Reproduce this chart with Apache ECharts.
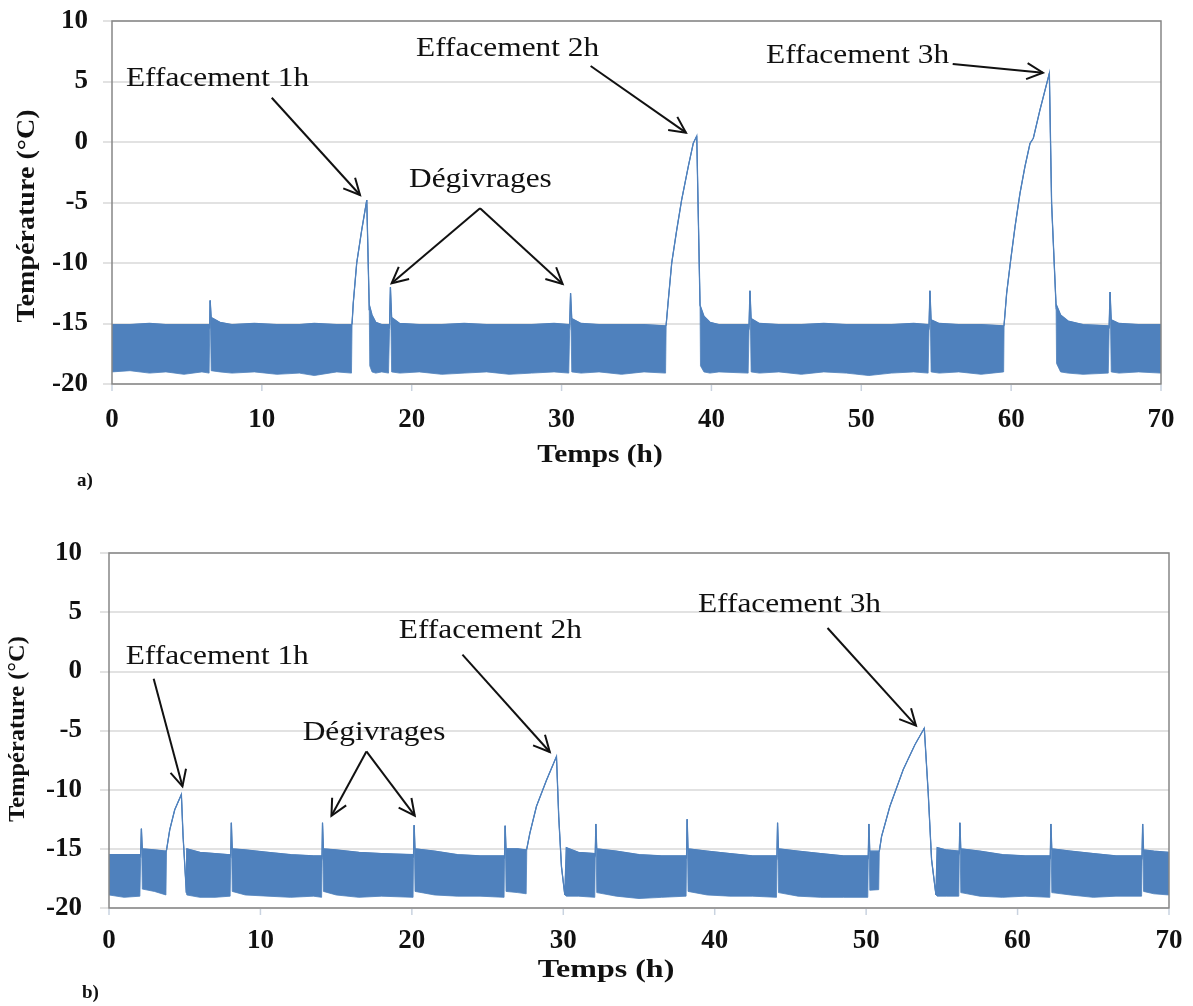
<!DOCTYPE html>
<html>
<head>
<meta charset="utf-8">
<script src="https://cdn.jsdelivr.net/npm/echarts@6/dist/echarts.min.js"></script>
<style>
  html, body { margin: 0; padding: 0; background: #ffffff; }
  #chart { width: 1193px; height: 1006px; }
</style>
</head>
<body>
<div id="chart"></div>
<script>
// Panel a) — cold-room temperature, envelope of the fast compressor cycling (°C vs hours)
const timeA = [
  0, 1.2, 2.5, 3.6, 4.8, 6.0, 6.48, 6.52, 6.55, 6.62, 7.2, 8.0, 9.5, 11.0, 12.5, 13.5, 15.0, 15.98,
  16.02, 16.1, 16.33, 16.66, 17.0, 17.17, 17.2, 17.35, 17.6, 18.0,
  18.45, 18.52, 18.58, 18.66, 19.2, 20.5, 22.0, 23.5, 25.0, 26.5, 28.0, 29.5,
  30.48, 30.54, 30.6, 30.68, 31.3, 32.5, 34.0, 35.5, 36.94,
  36.98, 37.12, 37.35, 37.68, 38.01, 38.46, 38.79, 39.02, 39.24, 39.27, 39.5, 39.9, 40.5,
  42.45, 42.51, 42.57, 42.65, 43.2, 44.5, 46.0, 47.5, 49.0, 50.5, 52.0, 53.5,
  54.46, 54.52, 54.58, 54.66, 55.2, 56.5, 58.0, 59.5,
  59.53, 59.7, 59.97, 60.26, 60.59, 60.92, 61.26, 61.48, 61.92, 62.55, 62.7, 63.0, 63.03, 63.3, 63.8, 64.8,
  66.48, 66.54, 66.6, 66.68, 67.2, 68.5, 70.0
];
const upperA = [
  -15.1, -15.1, -15.0, -15.1, -15.1, -15.1, -15.1, -15.4, -13.1, -14.5, -14.9, -15.1, -15.0, -15.1, -15.1, -15.0, -15.1, -15.1,
  -15.0, -13.3, -10.0, -7.3, -4.8, -13.9, -13.6, -14.3, -14.9, -15.1,
  -15.1, -15.3, -12.0, -14.5, -15.0, -15.1, -15.1, -15.0, -15.1, -15.1, -15.1, -15.0,
  -15.1, -15.3, -12.5, -14.6, -15.0, -15.1, -15.1, -15.1, -15.2,
  -15.1, -13.1, -10.0, -7.3, -4.8, -2.0, -0.1, 0.5, -13.5, -13.6, -14.4, -14.9, -15.1,
  -15.1, -15.3, -12.3, -14.6, -15.0, -15.1, -15.1, -15.0, -15.1, -15.1, -15.1, -15.0,
  -15.1, -15.3, -12.3, -14.7, -15.0, -15.1, -15.1, -15.2,
  -15.1, -12.5, -9.75, -7.0, -4.24, -2.04, -0.11, 0.31, 2.64, 5.68, -5.07, -13.6, -13.5, -14.3, -14.8, -15.1,
  -15.2, -15.3, -12.4, -14.7, -15.0, -15.1, -15.1
];
const lowerA = [
  -19.0, -18.9, -19.1, -19.0, -19.2, -19.0, -19.1, -15.6, -13.1, -18.9, -19.0, -19.1, -19.0, -19.2, -19.1, -19.3, -19.0, -19.1,
  -15.0, -13.3, -10.0, -7.3, -4.8, -13.9, -18.5, -19.0, -19.1, -19.0,
  -19.1, -15.5, -12.0, -19.0, -19.1, -19.0, -19.2, -19.1, -19.0, -19.2, -19.1, -19.0,
  -19.1, -15.5, -12.5, -19.0, -19.1, -19.0, -19.2, -19.0, -19.1,
  -15.1, -13.1, -10.0, -7.3, -4.8, -2.0, -0.1, 0.5, -13.5, -18.5, -19.0, -19.1, -19.0,
  -19.1, -15.5, -12.3, -19.0, -19.1, -19.0, -19.2, -19.0, -19.1, -19.3, -19.1, -19.0,
  -19.1, -15.5, -12.3, -19.0, -19.1, -19.0, -19.2, -19.0,
  -15.1, -12.5, -9.75, -7.0, -4.24, -2.04, -0.11, 0.31, 2.64, 5.68, -5.07, -13.6, -18.3, -19.0, -19.1, -19.2,
  -19.1, -15.5, -12.4, -19.0, -19.1, -19.0, -19.1
];

// Panel b)
const timeB = [
  0, 1.0, 2.04, 2.09, 2.14, 2.2, 3.0, 3.76,
  3.8, 4.01, 4.34, 4.78, 4.89, 5.11, 5.14, 6.0, 7.0, 8.0,
  8.04, 8.08, 8.14, 9.0, 10.5, 12.0, 13.5, 14.04,
  14.07, 14.1, 14.16, 15.0, 16.5, 18.0, 20.08,
  20.11, 20.15, 20.21, 21.5, 23.0, 24.5, 26.09,
  26.12, 26.16, 26.22, 27.0, 27.55,
  27.59, 27.79, 28.23, 28.89, 29.55, 29.7, 29.88, 30.1, 30.2, 31.0, 32.08,
  32.11, 32.15, 32.21, 33.5, 35.0, 36.5, 38.11,
  38.14, 38.18, 38.24, 39.5, 41.0, 42.5, 44.08,
  44.11, 44.15, 44.21, 45.5, 47.0, 48.5, 50.11,
  50.14, 50.18, 50.24, 50.83,
  50.87, 51.02, 51.57, 52.45, 53.22, 53.84, 54.1, 54.32, 54.61, 54.69, 55.3, 56.12,
  56.15, 56.19, 56.25, 57.5, 59.0, 60.5, 62.13,
  62.16, 62.2, 62.26, 63.5, 65.0, 66.5, 68.19,
  68.22, 68.26, 68.32, 69.0, 70.0
];
const upperB = [
  -15.5, -15.5, -15.5, -15.6, -13.3, -15.0, -15.1, -15.2,
  -15.1, -13.4, -11.7, -10.4, -13.9, -18.7, -15.0, -15.3, -15.4, -15.5,
  -15.6, -12.8, -15.0, -15.1, -15.3, -15.5, -15.6, -15.6,
  -15.7, -12.8, -15.0, -15.1, -15.3, -15.4, -15.5,
  -15.6, -13.0, -15.0, -15.2, -15.5, -15.6, -15.6,
  -15.7, -13.05, -15.0, -15.0, -15.1,
  -15.0, -13.7, -11.4, -9.2, -7.2, -12.3, -16.5, -18.9, -14.9, -15.3, -15.4,
  -15.5, -12.9, -15.0, -15.2, -15.5, -15.6, -15.6,
  -15.7, -12.5, -15.0, -15.2, -15.4, -15.6, -15.6,
  -15.7, -12.8, -15.0, -15.2, -15.4, -15.6, -15.6,
  -15.7, -12.9, -15.2, -15.2,
  -15.2, -13.95, -11.4, -8.3, -6.2, -4.8, -10.3, -15.9, -18.9, -14.9, -15.1, -15.2,
  -15.3, -12.8, -15.0, -15.2, -15.5, -15.6, -15.6,
  -15.7, -12.9, -15.0, -15.2, -15.4, -15.6, -15.6,
  -15.7, -12.9, -15.1, -15.2, -15.3
];
const lowerB = [
  -18.9, -19.1, -19.0, -15.8, -13.3, -18.4, -18.6, -18.9,
  -15.1, -13.4, -11.7, -10.4, -13.9, -18.7, -18.9, -19.1, -19.1, -19.0,
  -15.8, -12.8, -18.6, -18.9, -19.0, -19.1, -19.0, -19.1,
  -15.9, -12.8, -18.6, -18.9, -19.1, -19.0, -19.1,
  -15.8, -13.0, -18.6, -18.9, -19.0, -19.0, -19.1,
  -15.9, -13.05, -18.6, -18.7, -18.8,
  -15.0, -13.7, -11.4, -9.2, -7.2, -12.3, -16.5, -18.9, -19.0, -19.0, -19.1,
  -15.7, -12.9, -18.7, -19.0, -19.2, -19.1, -19.0,
  -15.9, -12.5, -18.6, -18.9, -19.0, -19.0, -19.1,
  -15.9, -12.8, -18.7, -19.0, -19.1, -19.1, -19.1,
  -15.9, -12.9, -18.5, -18.45,
  -15.2, -13.95, -11.4, -8.3, -6.2, -4.8, -10.3, -15.9, -18.9, -19.0, -19.0, -19.0,
  -15.5, -12.8, -18.7, -19.0, -19.1, -19.0, -19.1,
  -15.9, -12.9, -18.7, -18.9, -19.1, -19.0, -19.0,
  -15.9, -12.9, -18.6, -18.8, -18.9
];

// Axis ranges and titles
const xRange = [0, 70, 10];
const yRange = [-20, 10, 5];
const xTitle = 'Temps (h)';
const yTitle = 'Température (°C)';
const panelLabels = ['a)', 'b)'];

// Callouts, anchored in data units (hours, °C) of their own panel
const callouts = [
  { panel: 0, text: 'Effacement 1h', at: [0.93, 5.25], arrows: [[[10.66, 3.66], [16.55, -4.38]]] },
  { panel: 0, text: 'Dégivrages', at: [19.82, -3.10], arrows: [[[24.56, -5.48], [18.66, -11.68]], [[24.56, -5.48], [30.07, -11.74]]] },
  { panel: 0, text: 'Effacement 2h', at: [20.29, 7.73], arrows: [[[31.94, 6.28], [38.30, 0.77]]] },
  { panel: 0, text: 'Effacement 3h', at: [43.64, 7.15], arrows: [[[56.10, 6.45], [62.12, 5.73]]] },
  { panel: 1, text: 'Effacement 1h', at: [1.10, 1.21], arrows: [[[2.95, -0.62], [4.85, -9.72]]] },
  { panel: 1, text: 'Dégivrages', at: [12.79, -5.21], arrows: [[[17.0, -6.77], [14.69, -12.2]], [[17.0, -6.77], [20.19, -12.2]]] },
  { panel: 1, text: 'Effacement 2h', at: [19.14, 3.42], arrows: [[[23.34, 1.41], [29.11, -6.82]]] },
  { panel: 1, text: 'Effacement 3h', at: [38.89, 5.67], arrows: [[[47.45, 3.66], [53.29, -4.59]]] }
];

const SERIF = '"Liberation Serif", "Times New Roman", serif';
const BLUE = '#4F81BD';
const INK = '#111111';

const chart = echarts.init(document.getElementById('chart'), null, { renderer: 'canvas' });

const grids = [
  { left: 112, top: 21, width: 1049, height: 363 },
  { left: 109, top: 553, width: 1060, height: 355 }
];

// The frame of each plot comes from the grid border; the time axis only
// carries its labels, its short ticks are added under the frame below.
function xAxisFor(i) {
  return {
    type: 'value', gridIndex: i, position: 'bottom', min: xRange[0], max: xRange[1], interval: xRange[2],
    axisLine: { show: false, onZero: false },
    axisTick: { show: false },
    splitLine: { show: false },
    axisLabel: { margin: i === 0 ? 23 : 20, color: INK, fontFamily: SERIF, fontWeight: 'bold', fontSize: 27 }
  };
}
function yAxisFor(i) {
  return {
    type: 'value', gridIndex: i, position: 'left', min: yRange[0], max: yRange[1], interval: yRange[2],
    axisLine: { show: false, onZero: false },
    axisTick: { show: true, length: 9, lineStyle: { color: '#D9D9D9', width: 1.5 } },
    splitLine: { show: true, lineStyle: { color: '#D9D9D9', width: 1.5 } },
    axisLabel: { margin: i === 0 ? 24 : 27, color: INK, fontFamily: SERIF, fontWeight: 'bold', fontSize: 27 }
  };
}

// The oscillation band: one filled outline running along the upper envelope
// and back along the lower one; where both envelopes meet, the band collapses
// into the single temperature trace, drawn by the outline stroke.
function bandSeries(i, t, up, lo) {
  return {
    type: 'custom', coordinateSystem: 'cartesian2d', xAxisIndex: i, yAxisIndex: i,
    data: t.map((x, k) => [x, up[k], lo[k]]),
    encode: { x: 0, y: [1, 2] },
    silent: true, clip: true, z: 3,
    renderItem: function (params, api) {
      if (params.dataIndex !== 0) return null;
      const top = t.map((x, k) => api.coord([x, up[k]]));
      const bottom = t.map((x, k) => api.coord([x, lo[k]])).reverse();
      return {
        type: 'group',
        children: [
          { type: 'polygon', shape: { points: top.concat(bottom) },
            style: { fill: BLUE, stroke: BLUE, lineWidth: 0.8 } },
          { type: 'polyline', shape: { points: top },
            style: { fill: null, stroke: BLUE, lineWidth: 1.3 } }
        ]
      };
    }
  };
}

chart.setOption({
  animation: false,
  backgroundColor: '#ffffff',
  grid: grids.map(g => Object.assign({ show: true, borderColor: '#868686', borderWidth: 1.5, backgroundColor: 'transparent', z: 4 }, g)),
  xAxis: [xAxisFor(0), xAxisFor(1)],
  yAxis: [yAxisFor(0), yAxisFor(1)],
  series: [bandSeries(0, timeA, upperA, lowerA), bandSeries(1, timeB, upperB, lowerB)]
});

// Callout texts and arrows, placed through each panel's own scales
function arrowParts(p0, p1) {
  const ang = Math.atan2(p1[1] - p0[1], p1[0] - p0[0]);
  const len = 18, spread = 0.46;
  const w1 = [p1[0] - len * Math.cos(ang - spread), p1[1] - len * Math.sin(ang - spread)];
  const w2 = [p1[0] - len * Math.cos(ang + spread), p1[1] - len * Math.sin(ang + spread)];
  return [
    { type: 'line', shape: { x1: p0[0], y1: p0[1], x2: p1[0], y2: p1[1] }, style: { stroke: INK, lineWidth: 2 }, z: 10 },
    { type: 'polyline', shape: { points: [w1, p1, w2] }, style: { stroke: INK, lineWidth: 2, fill: null }, z: 10 }
  ];
}

const elements = [];
callouts.forEach(c => {
  const px = chart.convertToPixel({ gridIndex: c.panel }, c.at);
  elements.push({ type: 'text', x: px[0], y: px[1], scaleX: 1.12, z: 10,
    style: { text: c.text, font: '28px ' + SERIF, fill: INK, align: 'left', verticalAlign: 'middle' } });
  c.arrows.forEach(a => {
    const p0 = chart.convertToPixel({ gridIndex: c.panel }, a[0]);
    const p1 = chart.convertToPixel({ gridIndex: c.panel }, a[1]);
    arrowParts(p0, p1).forEach(e => elements.push(e));
  });
});

// Short ticks under the time axis, one per labelled hour
[0, 1].forEach(i => {
  for (let v = xRange[0]; v <= xRange[1]; v += xRange[2]) {
    const p = chart.convertToPixel({ gridIndex: i }, [v, yRange[0]]);
    elements.push({ type: 'line', shape: { x1: p[0], y1: p[1] + 1, x2: p[0], y2: p[1] + 7 },
      style: { stroke: '#C9D3E0', lineWidth: 1.5 } });
  }
});

// Axis titles, set against each plot area
const xTitlePos = [[600, 455, 26, 1.13], [606, 971, 25, 1.28]];
const yTitlePos = [[27, 216, 26, 1.08], [18, 729, 24, 1.02]];
[0, 1].forEach(i => {
  const xt = xTitlePos[i], yt = yTitlePos[i];
  elements.push({ type: 'text', x: xt[0], y: xt[1], scaleX: xt[3],
    style: { text: xTitle, font: 'bold ' + xt[2] + 'px ' + SERIF, fill: INK, align: 'center', verticalAlign: 'middle' } });
  elements.push({ type: 'text', x: yt[0], y: yt[1], rotation: Math.PI / 2, scaleX: yt[3],
    style: { text: yTitle, font: 'bold ' + yt[2] + 'px ' + SERIF, fill: INK, align: 'center', verticalAlign: 'middle' } });
});
elements.push({ type: 'text', x: 77, y: 481, style: { text: panelLabels[0], font: 'bold 19px ' + SERIF, fill: INK, verticalAlign: 'middle' } });
elements.push({ type: 'text', x: 82, y: 993, style: { text: panelLabels[1], font: 'bold 19px ' + SERIF, fill: INK, verticalAlign: 'middle' } });

chart.setOption({ graphic: { elements: elements } });
</script>
</body>
</html>
